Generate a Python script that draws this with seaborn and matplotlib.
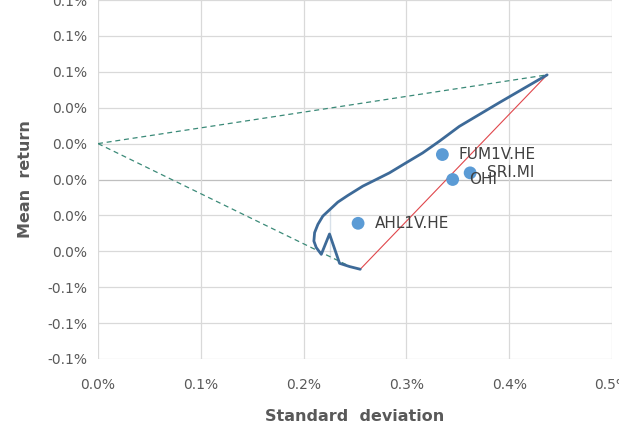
import numpy as np
import pandas as pd
import matplotlib
matplotlib.use('Agg')
import matplotlib.pyplot as plt
import seaborn as sns

# ─── Datos ──────────────────────────────────────────────────────────────────
assets     = ['FUM1V.HE', 'SRI.MI', 'OHI', 'AHL1V.HE']
asset_sd   = [0.00335, 0.00362, 0.00345, 0.00253]
asset_ret  = [0.000139, 0.000037, 0.0, -0.000244]

frontier_sd  = [0.002551, 0.002447, 0.002350, 0.002252, 0.002172, 0.002123,
                0.002100, 0.002107, 0.002139, 0.002187, 0.002252, 0.002333,
                0.002430, 0.002576, 0.002706, 0.002835, 0.002997, 0.003158,
                0.003320, 0.003515, 0.003903, 0.004369]
frontier_ret = [-0.000500, -0.000485, -0.000467, -0.000444, -0.000417,
                -0.000379, -0.000343, -0.000296, -0.000250, -0.000204,
                -0.000163, -0.000126, -0.000089, -0.000037, 0.0, 0.000037,
                0.000093, 0.000148, 0.000213, 0.000296, 0.000428, 0.000583]

rf_sd, rf_ret = 0.0, 0.0002
tangent_sd, tangent_ret = 0.004369, 0.000583
low_sd, low_ret = 0.002447, -0.000483
minret_sd, minret_ret = 0.002551, -0.000500

yticks = np.arange(-0.0010, 0.00101, 0.0002)
ylabels = ['-0.1%', '-0.1%', '-0.1%', '0.0%', '0.0%', '0.0%',
           '0.0%', '0.0%', '0.1%', '0.1%', '0.1%']
xticks = np.arange(0, 0.00501, 0.001)
xlabels = ['0.0%', '0.1%', '0.2%', '0.3%', '0.4%', '0.5%']

# ─── Figura ─────────────────────────────────────────────────────────────────
sns.set_style('white')
plt.rcParams['font.family'] = ['DejaVu Sans']
fig = plt.figure(figsize=(6.19, 4.41), dpi=100)
ax = fig.add_axes([98/619, 82/441, 514/619, 359/441])

grid = '#D9D9D9'
for yv in yticks:
    ax.axhline(yv, color='#BFBFBF' if abs(yv) < 1e-9 else grid, lw=0.9, zorder=0)
for xv in xticks:
    ax.axvline(xv, color=grid, lw=0.9, zorder=0)

dash = '#3B8A78'
ax.plot([rf_sd, tangent_sd], [rf_ret, tangent_ret], ls=(0, (4, 3)), color=dash, lw=0.9)
ax.plot([rf_sd, low_sd], [rf_ret, low_ret], ls=(0, (4, 3)), color=dash, lw=0.9)
ax.plot([minret_sd, tangent_sd], [minret_ret, tangent_ret], color='#E0474C', lw=0.8)

df_front = pd.DataFrame({'sd': frontier_sd, 'ret': frontier_ret})
sns.lineplot(data=df_front, x='sd', y='ret', sort=False, color='#3D6A98',
             lw=2, ax=ax, zorder=3, solid_joinstyle='round')

df_assets = pd.DataFrame({'sd': asset_sd, 'ret': asset_ret, 'name': assets})
sns.scatterplot(data=df_assets, x='sd', y='ret', color='#5B9BD5', s=85,
                edgecolor='none', ax=ax, zorder=4)
for sd, r, n in zip(asset_sd, asset_ret, assets):
    ax.text(sd + 0.00016, r, n, fontsize=11, color='#404040',
            va='center', ha='left', zorder=5)

ax.set_xlim(0, 0.005)
ax.set_ylim(-0.0010, 0.0010)
ax.set_xticks(xticks)
ax.set_xticklabels(xlabels)
ax.set_yticks(yticks)
ax.set_yticklabels(ylabels)
ax.tick_params(length=0, labelsize=10, colors='#595959', pad=8)
ax.tick_params(axis='x', pad=14)
for s in ax.spines.values():
    s.set_visible(False)
ax.set_xlabel('Standard  deviation', fontsize=11.5, fontweight='bold',
              color='#595959', labelpad=12)
ax.set_ylabel('Mean  return', fontsize=11.5, fontweight='bold',
              color='#595959', labelpad=10)

fig.savefig('out.png', dpi=100)
